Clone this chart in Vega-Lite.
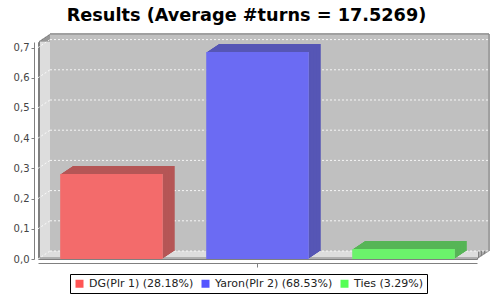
{
  "$schema": "https://vega.github.io/schema/vega-lite/v6.json",
  "width": 439,
  "height": 217,
  "autosize": "none",
  "padding": {"left": 38, "top": 42, "right": 23, "bottom": 41},
  "background": "white",
  "title": {"text": "Results (Average #turns = 17.5269)", "font": "DejaVu Sans", "fontSize": 17.7, "fontWeight": "bold", "color": "#000000", "anchor": "middle", "offset": 9, "dx": -11},
  "datasets": {
    "results": [
      {"series": "DG(Plr 1) (28.18%)", "value": 0.2818},
      {"series": "Yaron(Plr 2) (68.53%)", "value": 0.6853},
      {"series": "Ties (3.29%)", "value": 0.0329}
    ],
    "grid": [{"v": 0}, {"v": 0.1}, {"v": 0.2}, {"v": 0.3}, {"v": 0.4}, {"v": 0.5}, {"v": 0.6}, {"v": 0.7}],
    "one": [{"k": 1}]
  },
  "config": {
    "view": {"fill": "#dddddd", "stroke": "#808080", "strokeWidth": 1},
    "axisY": {"offset": 4, "tickSize": 3, "labelPadding": 2, "labelFont": "DejaVu Sans", "labelFontSize": 10, "labelColor": "#444444", "domainColor": "#808080", "tickColor": "#808080", "grid": false, "title": null, "values": [0, 0.1, 0.2, 0.3, 0.4, 0.5, 0.6, 0.7], "labelExpr": "replace(format(datum.value, '.1f'), '.', ',')"},
    "axisX": {"offset": 4, "tickSize": 4, "labels": false, "domainColor": "#808080", "tickColor": "#808080", "grid": false, "title": null},
    "legend": {"orient": "none", "legendX": 32, "legendY": 232, "direction": "horizontal", "strokeColor": "#000000", "fillColor": "#ffffff", "padding": 4, "symbolType": "square", "symbolSize": 64, "symbolStrokeWidth": 0, "symbolOpacity": 1, "labelFont": "DejaVu Sans", "labelFontSize": 11, "labelColor": "#222222", "columnPadding": 6, "labelOffset": 4, "title": null}
  },
  "resolve": {"scale": {"x": "independent"}, "axis": {"x": "independent"}},
  "layer": [
    {
      "encoding": {
        "x": {"datum": 0, "type": "quantitative", "scale": {"domain": [0, 1], "nice": false, "zero": false}, "axis": null},
        "x2": {"datum": 1}
      },
      "layer": [
        {"data": {"name": "one"}, "mark": {"type": "rect", "fill": "#dddddd", "stroke": "#808080", "strokeWidth": 1, "xOffset": 12, "x2Offset": 12, "yOffset": -8, "y2Offset": -8}, "encoding": {"y": {"datum": 0, "type": "quantitative", "scale": {"domain": [0, 0.7185], "nice": false}}, "y2": {"datum": 0.7185}}},
        {"data": {"name": "one"}, "mark": {"type": "rect", "fill": "#dddddd", "stroke": "#808080", "strokeWidth": 1, "xOffset": 10.5, "x2Offset": 10.5, "yOffset": -7, "y2Offset": -7}, "encoding": {"y": {"datum": 0, "type": "quantitative", "scale": {"domain": [0, 0.7185], "nice": false}}, "y2": {"datum": 0.7185}}},
        {"data": {"name": "one"}, "mark": {"type": "rect", "fill": "#dddddd", "stroke": "#808080", "strokeWidth": 1, "xOffset": 9, "x2Offset": 9, "yOffset": -6, "y2Offset": -6}, "encoding": {"y": {"datum": 0, "type": "quantitative", "scale": {"domain": [0, 0.7185], "nice": false}}, "y2": {"datum": 0.7185}}},
        {"data": {"name": "one"}, "mark": {"type": "rect", "fill": "#dddddd", "stroke": "#808080", "strokeWidth": 1, "xOffset": 7.5, "x2Offset": 7.5, "yOffset": -5, "y2Offset": -5}, "encoding": {"y": {"datum": 0, "type": "quantitative", "scale": {"domain": [0, 0.7185], "nice": false}}, "y2": {"datum": 0.7185}}},
        {"data": {"name": "one"}, "mark": {"type": "rect", "fill": "#dddddd", "stroke": "#808080", "strokeWidth": 1, "xOffset": 6, "x2Offset": 6, "yOffset": -4, "y2Offset": -4}, "encoding": {"y": {"datum": 0, "type": "quantitative", "scale": {"domain": [0, 0.7185], "nice": false}}, "y2": {"datum": 0.7185}}},
        {"data": {"name": "one"}, "mark": {"type": "rect", "fill": "#dddddd", "stroke": "#808080", "strokeWidth": 1, "xOffset": 4.5, "x2Offset": 4.5, "yOffset": -3, "y2Offset": -3}, "encoding": {"y": {"datum": 0, "type": "quantitative", "scale": {"domain": [0, 0.7185], "nice": false}}, "y2": {"datum": 0.7185}}},
        {"data": {"name": "one"}, "mark": {"type": "rect", "fill": "#dddddd", "stroke": "#808080", "strokeWidth": 1, "xOffset": 3, "x2Offset": 3, "yOffset": -2, "y2Offset": -2}, "encoding": {"y": {"datum": 0, "type": "quantitative", "scale": {"domain": [0, 0.7185], "nice": false}}, "y2": {"datum": 0.7185}}},
        {"data": {"name": "one"}, "mark": {"type": "rect", "fill": "#dddddd", "stroke": "#808080", "strokeWidth": 1, "xOffset": 1.5, "x2Offset": 1.5, "yOffset": -1, "y2Offset": -1}, "encoding": {"y": {"datum": 0, "type": "quantitative", "scale": {"domain": [0, 0.7185], "nice": false}}, "y2": {"datum": 0.7185}}},
        {"data": {"name": "one"}, "mark": {"type": "rect", "fill": "#c0c0c0", "stroke": "#808080", "strokeWidth": 1, "strokeDash": [656, 2000], "xOffset": 12, "x2Offset": 12, "yOffset": -8, "y2Offset": -8}, "encoding": {"y": {"datum": 0, "type": "quantitative", "scale": {"domain": [0, 0.7185], "nice": false}}, "y2": {"datum": 0.7185}}},
        {"data": {"name": "grid"}, "mark": {"type": "rule", "stroke": "#ffffff", "strokeWidth": 1, "strokeDash": [2, 2], "opacity": 0.85, "xOffset": 12, "x2Offset": 12, "yOffset": -8, "y2Offset": -8}, "encoding": {"y": {"field": "v", "type": "quantitative", "scale": {"domain": [0, 0.7185], "nice": false}}}},
        {"data": {"name": "grid"}, "mark": {"type": "rule", "stroke": "#ffffff", "strokeWidth": 1, "strokeDash": [2, 2], "opacity": 0.85, "xOffset": 0, "x2Offset": 12, "yOffset": 0, "y2Offset": -8}, "encoding": {"x2": {"datum": 0}, "y": {"field": "v", "type": "quantitative", "scale": {"domain": [0, 0.7185], "nice": false}}, "y2": {"field": "v"}}}
      ]
    },
    {
      "data": {"name": "results"},
      "encoding": {
        "x": {"field": "series", "type": "nominal", "sort": null, "scale": {"paddingInner": 0.298, "paddingOuter": 0.152}, "axis": {"values": ["Yaron(Plr 2) (68.53%)"]}},
        "y": {"field": "value", "type": "quantitative", "scale": {"domain": [0, 0.7185], "nice": false}}
      },
      "layer": [
        {"mark": {"type": "bar", "xOffset": 12, "x2Offset": 12, "yOffset": -8, "y2Offset": -8}, "encoding": {"fill": {"field": "series", "type": "nominal", "sort": null, "scale": {"range": ["#b55656", "#5656b5", "#56b556"]}, "legend": null}}},
        {"mark": {"type": "bar", "xOffset": 10.5, "x2Offset": 10.5, "yOffset": -7, "y2Offset": -7}, "encoding": {"fill": {"field": "series", "type": "nominal", "sort": null, "legend": null}}},
        {"mark": {"type": "bar", "xOffset": 9, "x2Offset": 9, "yOffset": -6, "y2Offset": -6}, "encoding": {"fill": {"field": "series", "type": "nominal", "sort": null, "legend": null}}},
        {"mark": {"type": "bar", "xOffset": 7.5, "x2Offset": 7.5, "yOffset": -5, "y2Offset": -5}, "encoding": {"fill": {"field": "series", "type": "nominal", "sort": null, "legend": null}}},
        {"mark": {"type": "bar", "xOffset": 6, "x2Offset": 6, "yOffset": -4, "y2Offset": -4}, "encoding": {"fill": {"field": "series", "type": "nominal", "sort": null, "legend": null}}},
        {"mark": {"type": "bar", "xOffset": 4.5, "x2Offset": 4.5, "yOffset": -3, "y2Offset": -3}, "encoding": {"fill": {"field": "series", "type": "nominal", "sort": null, "legend": null}}},
        {"mark": {"type": "bar", "xOffset": 3, "x2Offset": 3, "yOffset": -2, "y2Offset": -2}, "encoding": {"fill": {"field": "series", "type": "nominal", "sort": null, "legend": null}}},
        {"mark": {"type": "bar", "xOffset": 1.5, "x2Offset": 1.5, "yOffset": -1, "y2Offset": -1}, "encoding": {"fill": {"field": "series", "type": "nominal", "sort": null, "legend": null}}},
        {"mark": {"type": "bar", "fill": "#c0c0c0"}},
        {"mark": {"type": "bar", "opacity": 0.8}, "encoding": {"color": {"field": "series", "type": "nominal", "sort": null, "scale": {"range": ["#ff5555", "#5555ff", "#55ff55"]}}}}
      ]
    }
  ]
}
